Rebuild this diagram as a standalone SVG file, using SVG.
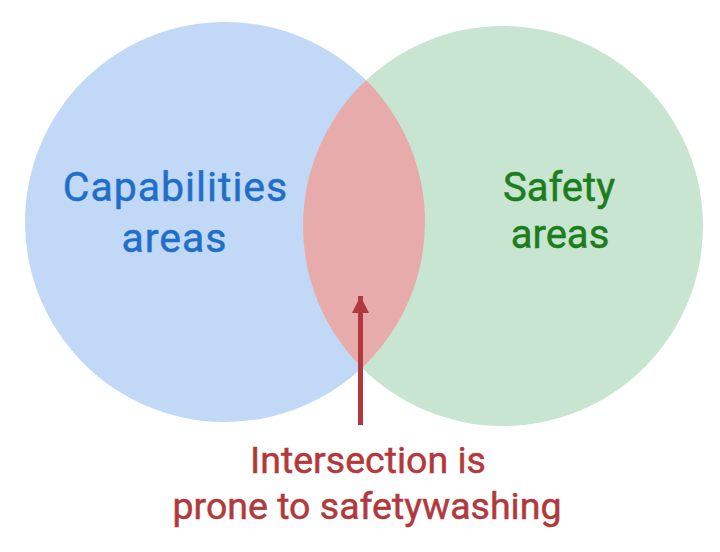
<svg xmlns="http://www.w3.org/2000/svg" width="720" height="552" viewBox="0 0 720 552">
<style>
text{font-family:Roboto,"Liberation Sans",sans-serif;text-anchor:middle;stroke-width:0.5px}
.cap{fill:#1F6FC9;stroke:#1F6FC9;font-size:41px;letter-spacing:1px}
.saf{fill:#1C7D1C;stroke:#1C7D1C;font-size:40px}
.int{fill:#B2393B;stroke:#B2393B;font-size:37.5px}
</style>
<defs>
<clipPath id="clipL"><circle cx="225" cy="222" r="200"/></clipPath>
<marker id="ah" viewBox="0 0 10 10" refX="10" refY="5" markerWidth="3.4" markerHeight="3.4" markerUnits="strokeWidth" orient="auto">
<path d="M0,0 L10,5 L0,10 Z" fill="#B2393B"/>
</marker>
</defs>
<rect width="720" height="552" fill="#FFFFFF"/>
<g id="capabilities">
<circle cx="225" cy="222" r="200" fill="#C1D8F6"/>
<text class="cap" x="175.5" y="201">Capabilities</text>
<text class="cap" x="174.5" y="252">areas</text>
</g>
<g id="safety">
<circle cx="503" cy="226" r="200" fill="#C7E5D0"/>
<text class="saf" x="559" y="201">Safety</text>
<text class="saf" x="560" y="248">areas</text>
</g>
<g id="intersection">
<circle cx="503" cy="226" r="200" fill="#E8ABAB" clip-path="url(#clipL)"/>
<text class="int" x="368" y="473">Intersection is</text>
<text class="int" x="367" y="519">prone to safetywashing</text>
</g>
<g id="connectors">
<line x1="360.5" y1="425" x2="360.5" y2="296" stroke="#B2393B" stroke-width="5" marker-end="url(#ah)"/>
</g>
</svg>
